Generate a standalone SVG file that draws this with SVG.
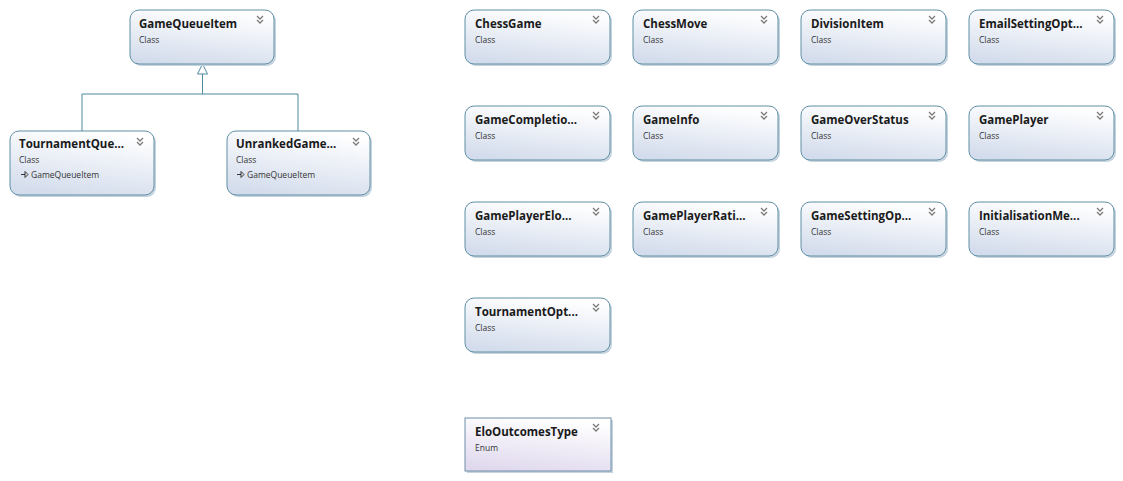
<svg xmlns="http://www.w3.org/2000/svg" width="1123" height="481" viewBox="0 0 1123 481">
<style>
.t{font-family:"Open Sans","Noto Sans","Liberation Sans",sans-serif;font-weight:bold;font-size:11.5px;fill:#1a1a1a}
.s{font-family:"Open Sans","Noto Sans","Liberation Sans",sans-serif;font-size:8.5px;fill:#333}
.box{fill:url(#g);stroke:#5f8fa3;stroke-width:1}
.ebox{fill:url(#ge);stroke:#6f8ea8;stroke-width:1}
.sh{fill:#c6d4df}
.chev{fill:none;stroke:#7a7a7a;stroke-width:1.3}
.conn{fill:none;stroke:#4f8aa0;stroke-width:1}
.ico{fill:none;stroke:#333;stroke-width:1}
</style>
<defs>
<linearGradient id="g" x1="0.6" y1="0" x2="0.3" y2="1">
<stop offset="0" stop-color="#ffffff"/>
<stop offset="1" stop-color="#d3dcec"/>
</linearGradient>
<linearGradient id="ge" x1="0.6" y1="0" x2="0.3" y2="1">
<stop offset="0" stop-color="#ffffff"/>
<stop offset="1" stop-color="#e0d9ee"/>
</linearGradient>
<g id="cv"><path class="chev" d="M-3,-3 L0,0 L3,-3 M-3,1 L0,4 L3,1"/></g>
<g id="inh"><path class="ico" d="M0,0 H4 M4,-3 L7,0 L4,3 Z"/></g>
</defs>
<rect width="1123" height="481" fill="#fff"/>
<g id="connectors">
<path class="conn" d="M202.5,74 V94 M82,94 H298 M82,94 V131 M298,94 V131"/>
<path d="M202.5,64 L197.5,74 L207.5,74 Z" fill="#fff" stroke="#4f8aa0"/>
</g>
<g id="GameQueueItem">
<rect class="sh" x="132" y="12" width="144" height="54" rx="9"/>
<rect class="box" x="130" y="10" width="144" height="54" rx="9"/>
<text class="t" x="139" y="28">GameQueueItem</text>
<text class="s" x="139" y="43">Class</text>
<use href="#cv" x="260" y="19"/>
</g>
<g id="TournamentQueueItem">
<rect class="sh" x="12" y="133" width="144" height="64" rx="9"/>
<rect class="box" x="10" y="131" width="144" height="64" rx="9"/>
<text class="t" x="19" y="148">TournamentQue...</text>
<text class="s" x="19" y="163">Class</text>
<use href="#inh" x="21" y="174.5"/>
<text class="s" x="31" y="178">GameQueueItem</text>
<use href="#cv" x="140" y="141"/>
</g>
<g id="UnrankedGameQueueItem">
<rect class="sh" x="229" y="133" width="143" height="64" rx="9"/>
<rect class="box" x="227" y="131" width="143" height="64" rx="9"/>
<text class="t" x="236" y="148">UnrankedGame...</text>
<text class="s" x="236" y="163">Class</text>
<use href="#inh" x="237" y="174.5"/>
<text class="s" x="247" y="178">GameQueueItem</text>
<use href="#cv" x="356" y="141"/>
</g>
<g id="ChessGame">
<rect class="sh" x="467" y="12" width="145" height="54" rx="9"/>
<rect class="box" x="465" y="10" width="145" height="54" rx="9"/>
<text class="t" x="475" y="28">ChessGame</text>
<text class="s" x="475" y="43">Class</text>
<use href="#cv" x="596" y="19"/>
</g>
<g id="ChessMove">
<rect class="sh" x="635" y="12" width="145" height="54" rx="9"/>
<rect class="box" x="633" y="10" width="145" height="54" rx="9"/>
<text class="t" x="643" y="28">ChessMove</text>
<text class="s" x="643" y="43">Class</text>
<use href="#cv" x="764" y="19"/>
</g>
<g id="DivisionItem">
<rect class="sh" x="803" y="12" width="145" height="54" rx="9"/>
<rect class="box" x="801" y="10" width="145" height="54" rx="9"/>
<text class="t" x="811" y="28">DivisionItem</text>
<text class="s" x="811" y="43">Class</text>
<use href="#cv" x="932" y="19"/>
</g>
<g id="EmailSettingOptions">
<rect class="sh" x="971" y="12" width="145" height="54" rx="9"/>
<rect class="box" x="969" y="10" width="145" height="54" rx="9"/>
<text class="t" x="979" y="28">EmailSettingOpt...</text>
<text class="s" x="979" y="43">Class</text>
<use href="#cv" x="1100" y="19"/>
</g>
<g id="GameCompletion">
<rect class="sh" x="467" y="108" width="145" height="54" rx="9"/>
<rect class="box" x="465" y="106" width="145" height="54" rx="9"/>
<text class="t" x="475" y="124">GameCompletio...</text>
<text class="s" x="475" y="139">Class</text>
<use href="#cv" x="596" y="115"/>
</g>
<g id="GameInfo">
<rect class="sh" x="635" y="108" width="145" height="54" rx="9"/>
<rect class="box" x="633" y="106" width="145" height="54" rx="9"/>
<text class="t" x="643" y="124">GameInfo</text>
<text class="s" x="643" y="139">Class</text>
<use href="#cv" x="764" y="115"/>
</g>
<g id="GameOverStatus">
<rect class="sh" x="803" y="108" width="145" height="54" rx="9"/>
<rect class="box" x="801" y="106" width="145" height="54" rx="9"/>
<text class="t" x="811" y="124">GameOverStatus</text>
<text class="s" x="811" y="139">Class</text>
<use href="#cv" x="932" y="115"/>
</g>
<g id="GamePlayer">
<rect class="sh" x="971" y="108" width="145" height="54" rx="9"/>
<rect class="box" x="969" y="106" width="145" height="54" rx="9"/>
<text class="t" x="979" y="124">GamePlayer</text>
<text class="s" x="979" y="139">Class</text>
<use href="#cv" x="1100" y="115"/>
</g>
<g id="GamePlayerElo">
<rect class="sh" x="467" y="204" width="145" height="54" rx="9"/>
<rect class="box" x="465" y="202" width="145" height="54" rx="9"/>
<text class="t" x="475" y="220">GamePlayerElo...</text>
<text class="s" x="475" y="235">Class</text>
<use href="#cv" x="596" y="211"/>
</g>
<g id="GamePlayerRating">
<rect class="sh" x="635" y="204" width="145" height="54" rx="9"/>
<rect class="box" x="633" y="202" width="145" height="54" rx="9"/>
<text class="t" x="643" y="220">GamePlayerRati...</text>
<text class="s" x="643" y="235">Class</text>
<use href="#cv" x="764" y="211"/>
</g>
<g id="GameSettingOptions">
<rect class="sh" x="803" y="204" width="145" height="54" rx="9"/>
<rect class="box" x="801" y="202" width="145" height="54" rx="9"/>
<text class="t" x="811" y="220">GameSettingOp...</text>
<text class="s" x="811" y="235">Class</text>
<use href="#cv" x="932" y="211"/>
</g>
<g id="InitialisationMethod">
<rect class="sh" x="971" y="204" width="145" height="54" rx="9"/>
<rect class="box" x="969" y="202" width="145" height="54" rx="9"/>
<text class="t" x="979" y="220">InitialisationMe...</text>
<text class="s" x="979" y="235">Class</text>
<use href="#cv" x="1100" y="211"/>
</g>
<g id="TournamentOptions">
<rect class="sh" x="467" y="300" width="145" height="54" rx="9"/>
<rect class="box" x="465" y="298" width="145" height="54" rx="9"/>
<text class="t" x="475" y="316">TournamentOpt...</text>
<text class="s" x="475" y="331">Class</text>
<use href="#cv" x="596" y="307"/>
</g>
<g id="EloOutcomesType">
<rect class="sh" x="467" y="420" width="146" height="53"/>
<rect class="ebox" x="465" y="418" width="146" height="53"/>
<text class="t" x="475" y="436">EloOutcomesType</text>
<text class="s" x="475" y="451">Enum</text>
<use href="#cv" x="596" y="427"/>
</g>
</svg>
